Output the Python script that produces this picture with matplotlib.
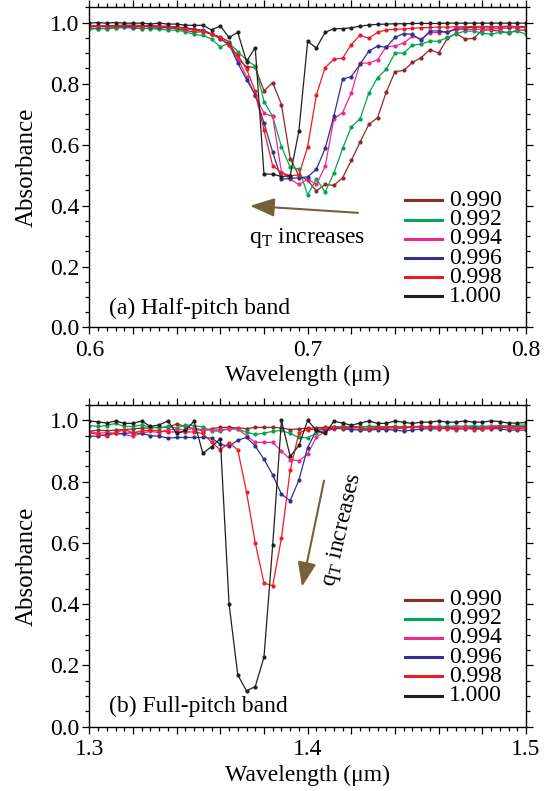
import numpy as np
import matplotlib
matplotlib.use("Agg")
import matplotlib.pyplot as plt
from matplotlib.ticker import MultipleLocator, FixedLocator, FixedFormatter

plt.rcParams['font.family'] = ['Liberation Serif', 'DejaVu Serif']
plt.rcParams['mathtext.fontset'] = 'custom'
plt.rcParams['mathtext.rm'] = 'Liberation Serif'
plt.rcParams['mathtext.it'] = 'Liberation Serif:italic'

# ---------------- data ----------------
labels = ["0.990", "0.992", "0.994", "0.996", "0.998", "1.000"]
colors = ["#8e2b22", "#00a651", "#ec2b8c", "#2e3192", "#ed1c24", "#231f20"]

wl_a = np.linspace(0.6, 0.8, 51)
wl_b = np.linspace(1.3, 1.5, 51)

# (a) half-pitch band
brown_a = [0.982, 0.98, 0.98, 0.982, 0.984, 0.982, 0.98, 0.982, 0.982, 0.983, 0.98,
           0.975, 0.968, 0.97, 0.962, 0.953, 0.937, 0.882, 0.855, 0.853, 0.776, 0.803, 0.731,
           0.554, 0.498, 0.483, 0.448, 0.469, 0.466, 0.491, 0.548, 0.608, 0.666, 0.688,
           0.772, 0.839, 0.843, 0.869, 0.885, 0.911, 0.9, 0.948, 0.965, 0.946, 0.948,
           0.976, 0.975, 0.972, 0.965, 0.975, 0.975]
green_a = [0.978, 0.98, 0.982, 0.983, 0.985, 0.983, 0.982, 0.98, 0.978, 0.975, 0.975,
           0.97, 0.961, 0.958, 0.946, 0.92, 0.933, 0.905, 0.877, 0.857, 0.741, 0.692,
           0.593, 0.525, 0.52, 0.435, 0.487, 0.444, 0.506, 0.587, 0.658, 0.684, 0.768,
           0.819, 0.847, 0.9, 0.9, 0.926, 0.929, 0.939, 0.939, 0.951, 0.963, 0.972,
           0.972, 0.965, 0.962, 0.968, 0.969, 0.971, 0.963]
pink_a = [0.99, 0.99, 0.988, 0.99, 0.99, 0.992, 0.99, 0.99, 0.988, 0.988, 0.985,
          0.982, 0.978, 0.972, 0.963, 0.948, 0.925, 0.882, 0.823, 0.76, 0.703, 0.692,
          0.51, 0.486, 0.469, 0.486, 0.469, 0.528, 0.684, 0.705, 0.769, 0.867, 0.867,
          0.878, 0.921, 0.923, 0.933, 0.955, 0.946, 0.967, 0.967, 0.97, 0.976, 0.978,
          0.978, 0.978, 0.98, 0.98, 0.982, 0.983, 0.984]
blue_a = [0.988, 0.986, 0.988, 0.988, 0.988, 0.987, 0.988, 0.987, 0.986, 0.985, 0.985,
          0.983, 0.978, 0.975, 0.963, 0.947, 0.93, 0.867, 0.813, 0.763, 0.67, 0.575,
          0.486, 0.489, 0.491, 0.494, 0.519, 0.587, 0.693, 0.814, 0.823, 0.863, 0.906,
          0.923, 0.919, 0.951, 0.964, 0.961, 0.942, 0.972, 0.973, 0.968, 0.981, 0.983,
          0.985, 0.985, 0.986, 0.986, 0.986, 0.987, 0.987]
red_a = [0.99, 0.988, 0.99, 0.99, 0.992, 0.99, 0.988, 0.99, 0.988, 0.987, 0.985,
         0.98, 0.975, 0.972, 0.961, 0.95, 0.925, 0.892, 0.848, 0.774, 0.647, 0.53, 0.508,
         0.498, 0.5, 0.593, 0.763, 0.852, 0.88, 0.883, 0.928, 0.959, 0.948, 0.968,
         0.976, 0.978, 0.979, 0.981, 0.983, 0.984, 0.985, 0.985, 0.986, 0.986, 0.987,
         0.987, 0.987, 0.987, 0.988, 0.987, 0.985]
black_a = [0.998, 1.0, 0.998, 1.0, 0.998, 0.998, 0.998, 0.995, 0.998, 0.995, 0.995,
           0.991, 0.991, 0.991, 0.976, 0.989, 0.951, 0.968, 0.872, 0.918, 0.503, 0.503,
           0.495, 0.498, 0.645, 0.938, 0.917, 0.968, 0.98, 0.98, 0.983, 0.988, 0.992,
           0.994, 0.995, 0.996, 0.996, 0.997, 0.997, 0.997, 0.997, 0.998, 0.998, 0.998,
           0.998, 0.998, 0.998, 0.998, 0.998, 0.998, 0.998]

# (b) full-pitch band
brown_b = [0.964, 0.968, 0.966, 0.968, 0.97, 0.972, 0.975, 0.975, 0.977, 0.977, 0.988,
           0.98, 0.972, 0.966, 0.973, 0.977, 0.977, 0.975, 0.973, 0.977, 0.977, 0.977,
           0.975, 0.97, 0.972, 0.974, 0.976, 0.977, 0.979, 0.98, 0.978, 0.978, 0.98,
           0.98, 0.978, 0.978, 0.98, 0.978, 0.978, 0.98, 0.98, 0.978, 0.978, 0.98, 0.98,
           0.978, 0.978, 0.98, 0.978, 0.98, 0.98]
green_b = [0.983, 0.98, 0.983, 0.99, 0.98, 0.98, 0.985, 0.978, 0.975, 0.98, 0.975,
           0.985, 0.983, 0.978, 0.965, 0.965, 0.972, 0.972, 0.961, 0.954, 0.958, 0.964,
           0.967, 0.957, 0.944, 0.943, 0.958, 0.965, 0.978, 0.98, 0.978, 0.98, 0.978,
           0.977, 0.978, 0.98, 0.978, 0.98, 0.98, 0.978, 0.98, 0.98, 0.982, 0.98, 0.982,
           0.98, 0.982, 0.983, 0.982, 0.984, 0.985]
pink_b = [0.964, 0.958, 0.96, 0.958, 0.954, 0.948, 0.958, 0.964, 0.96, 0.97, 0.97,
          0.97, 0.973, 0.97, 0.968, 0.97, 0.972, 0.972, 0.95, 0.928, 0.928, 0.928, 0.9,
          0.872, 0.868, 0.89, 0.945, 0.964, 0.972, 0.975, 0.973, 0.97, 0.972, 0.975,
          0.972, 0.972, 0.975, 0.978, 0.977, 0.978, 0.978, 0.976, 0.978, 0.978, 0.976,
          0.976, 0.98, 0.978, 0.978, 0.976, 0.975]
blue_b = [0.948, 0.948, 0.954, 0.957, 0.957, 0.96, 0.957, 0.95, 0.948, 0.942, 0.944,
          0.944, 0.944, 0.944, 0.942, 0.922, 0.915, 0.935, 0.944, 0.916, 0.873, 0.822,
          0.759, 0.738, 0.805, 0.911, 0.967, 0.97, 0.975, 0.972, 0.97, 0.968, 0.968,
          0.97, 0.97, 0.968, 0.965, 0.968, 0.972, 0.972, 0.972, 0.975, 0.973, 0.972,
          0.975, 0.972, 0.973, 0.972, 0.968, 0.968, 0.968]
red_b = [0.959, 0.954, 0.948, 0.96, 0.97, 0.96, 0.965, 0.968, 0.966, 0.962, 0.962,
         0.962, 0.962, 0.957, 0.929, 0.904, 0.926, 0.904, 0.766, 0.6, 0.469, 0.46, 0.616,
         0.837, 0.959, 0.97, 0.97, 0.975, 0.977, 0.975, 0.98, 0.975, 0.972, 0.975,
         0.977, 0.978, 0.975, 0.978, 0.98, 0.978, 0.975, 0.973, 0.97, 0.975, 0.97,
         0.972, 0.975, 0.978, 0.975, 0.972, 0.975]
black_b = [0.998, 0.995, 0.991, 0.998, 0.99, 0.99, 0.998, 0.98, 0.985, 0.998, 0.957,
           0.967, 0.997, 0.892, 0.914, 0.94, 0.401, 0.169, 0.117, 0.131, 0.227, 0.594,
           1.0, 0.882, 0.918, 1.0, 0.967, 0.957, 0.997, 0.991, 0.984, 0.991, 0.998,
           0.99, 0.99, 0.998, 0.993, 0.99, 0.994, 0.994, 0.998, 0.994, 0.994, 0.998,
           0.994, 0.994, 0.998, 0.996, 0.991, 0.991, 0.993]

series_a = [brown_a, green_a, pink_a, blue_a, red_a, black_a]
series_b = [brown_b, green_b, pink_b, blue_b, red_b, black_b]

# ---------------- figure ----------------
W, H = 557, 791
fig = plt.figure(figsize=(W / 100, H / 100), dpi=100)

def px_axes(l, t, r, b):
    return fig.add_axes([l / W, 1 - b / H, (r - l) / W, (b - t) / H])

A_TOP, A_BOT = 7.3, 327.5
B_TOP, B_BOT = 405.0, 726.7
ax_a = px_axes(89.3, A_TOP, 526.0, A_BOT)
ax_b = px_axes(89.3, B_TOP, 526.0, B_BOT)

FS = 17
arrow_col = "#76623a"

def style(ax, x0, x1, xlabels):
    ax.set_xlim(x0, x1)
    ax.set_ylim(0, 1.05)
    majors = np.linspace(x0, x1, 11)
    ax.xaxis.set_major_locator(FixedLocator(majors))
    ax.xaxis.set_major_formatter(FixedFormatter(
        [xlabels[i // 5] if i % 5 == 0 else "" for i in range(11)]))
    ax.xaxis.set_minor_locator(MultipleLocator(0.004))
    ax.yaxis.set_major_locator(FixedLocator([0, 0.2, 0.4, 0.6, 0.8, 1.0]))
    ax.yaxis.set_major_formatter(FixedFormatter(["0.0", "0.2", "0.4", "0.6", "0.8", "1.0"]))
    ax.yaxis.set_minor_locator(MultipleLocator(0.05))
    ax.tick_params(which="both", direction="out", top=True, right=True,
                   labelsize=FS, width=0.9)
    ax.tick_params(axis="x", pad=4)
    ax.tick_params(axis="y", pad=2)
    ax.tick_params(which="major", length=5)
    ax.tick_params(which="minor", length=2.8)
    for s in ax.spines.values():
        s.set_linewidth(1.0)
    ax.set_xlabel("Wavelength (μm)", fontsize=FS, labelpad=3)
    ax.set_ylabel("Absorbance", fontsize=18)
    ax.yaxis.set_label_coords(-0.117, 0.5)

def draw(ax, wl, series, legend_top_px, ax_top, ax_bot):
    for vals, c in zip(series, colors):
        ax.plot(wl, vals, "-o", color=c, lw=0.9, ms=3.0, mew=0, clip_on=True)
    # legend
    h = ax_bot - ax_top
    for k, (lab, c) in enumerate(zip(labels, colors)):
        ypx = legend_top_px + 19.2 * k
        ya = (ax_bot - ypx) / h
        ax.plot([(405 - 89.3) / 436.7, (442 - 89.3) / 436.7], [ya, ya],
                color=c, lw=2.2, transform=ax.transAxes, clip_on=False)
        ax.text((449 - 89.3) / 436.7, ya, lab, transform=ax.transAxes,
                fontsize=FS, va="center", ha="left")

style(ax_a, 0.6, 0.8, ["0.6", "0.7", "0.8"])
style(ax_b, 1.3, 1.5, ["1.3", "1.4", "1.5"])

draw(ax_a, wl_a, series_a, 200.5, A_TOP, A_BOT)
draw(ax_b, wl_b, series_b, 599.5, B_TOP, B_BOT)

ax_a.text(0.045, 0.042, "(a) Half-pitch band", transform=ax_a.transAxes,
          fontsize=FS, va="baseline", ha="left")
ax_b.text(0.045, 0.047, "(b) Full-pitch band", transform=ax_b.transAxes,
          fontsize=FS, va="baseline", ha="left")

# annotations
astyle = "-|>,head_length=1.0,head_width=0.38"
ax_a.annotate("", xy=(0.6736, 0.399), xytext=(0.7231, 0.376),
              arrowprops=dict(arrowstyle=astyle, color=arrow_col, lw=1.5,
                              mutation_scale=15, shrinkA=0, shrinkB=0))
ax_a.text(0.6731, 0.277, r"q$_\mathrm{T}$ increases", fontsize=FS,
          va="baseline", ha="left")

ax_b.annotate("", xy=(1.3974, 0.457), xytext=(1.4075, 0.803),
              arrowprops=dict(arrowstyle=astyle, color=arrow_col, lw=1.5,
                              mutation_scale=15, shrinkA=0, shrinkB=0))
ax_b.text(1.4157, 0.643, r"q$_\mathrm{T}$ increases", fontsize=FS,
          va="center", ha="center", rotation=77, rotation_mode="anchor")

fig.savefig("out.png", dpi=100)
